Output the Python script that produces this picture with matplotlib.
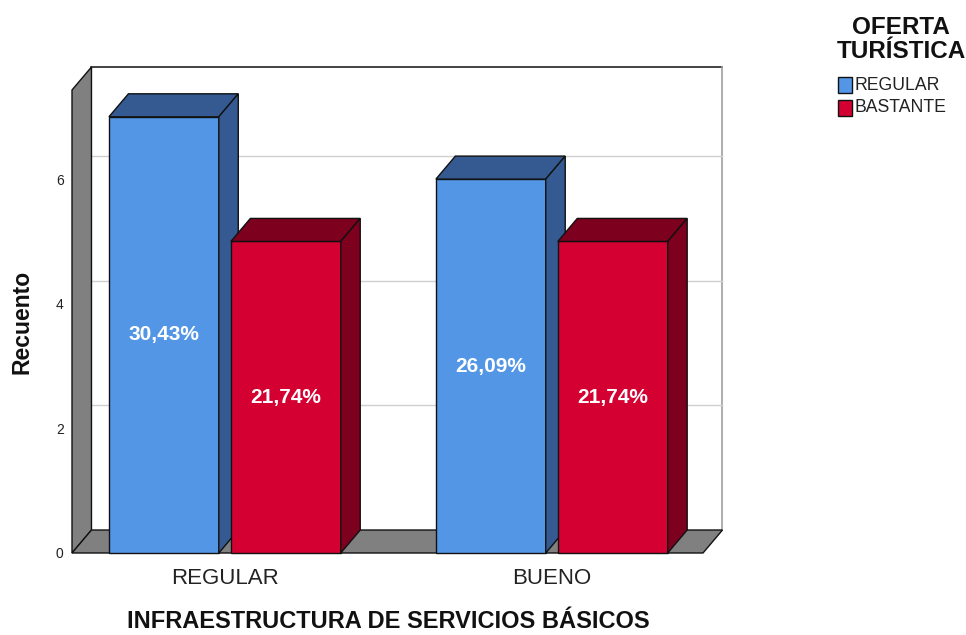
import matplotlib
matplotlib.use("Agg")
import matplotlib.pyplot as plt
from matplotlib.patches import Polygon, Rectangle

plt.rcParams['font.family'] = ['Liberation Sans', 'DejaVu Sans']

categories = ["REGULAR", "BUENO"]
series_names = ["REGULAR", "BASTANTE"]
values = {"REGULAR": [7, 6], "BASTANTE": [5, 5]}
pct_labels = {"REGULAR": ["30,43%", "26,09%"], "BASTANTE": ["21,74%", "21,74%"]}
yticks = [0, 2, 4, 6]

front_col = {"REGULAR": "#5496e6", "BASTANTE": "#d50032"}
dark_col = {"REGULAR": "#345a91", "BASTANTE": "#7d001e"}

W, H = 966, 635
fig = plt.figure(figsize=(W / 100, H / 100), dpi=100)
fig.patch.set_facecolor("white")

# front frame in pixels
L, R, B, T = 72, 703, 553, 90
ax = fig.add_axes([L / W, (H - B) / H, (R - L) / W, (B - T) / H])
ax.set_facecolor("none")
x0, x1 = -0.468, 1.462
y0, y1 = 0.0, 7.43
ax.set_xlim(x0, x1)
ax.set_ylim(y0, y1)
for s in ax.spines.values():
    s.set_visible(False)

DX, DY = 0.0596, 0.369

# back wall
ax.add_patch(Rectangle((x0 + DX, DY), x1 - x0, y1, facecolor="white",
                       edgecolor="none", zorder=0, clip_on=False))
ax.plot([x0 + DX, x1 + DX], [y1 + DY, y1 + DY], color="#222222", lw=1.2, zorder=1, clip_on=False)
ax.plot([x1 + DX, x1 + DX], [DY, y1 + DY], color="#a0a0a0", lw=1.2, zorder=1, clip_on=False)
for t in yticks[1:]:
    ax.plot([x0 + DX, x1 + DX], [t + DY, t + DY], color="#cfcfcf", lw=1.0, zorder=1, clip_on=False)
# left side wall
ax.add_patch(Polygon([(x0, 0), (x0 + DX, DY), (x0 + DX, y1 + DY), (x0, y1)],
                     closed=True, facecolor="#808080", edgecolor="#111111", lw=1.0,
                     zorder=2, clip_on=False))
# floor
ax.add_patch(Polygon([(x0, 0), (x1, 0), (x1 + DX, DY), (x0 + DX, DY)],
                     closed=True, facecolor="#808080", edgecolor="#111111", lw=1.0,
                     zorder=2, clip_on=False))

bw = 0.336
offsets = {"REGULAR": -0.355, "BASTANTE": 0.018}
z = 3
for ci, cat in enumerate(categories):
    for sname in series_names:
        v = values[sname][ci]
        xl = ci + offsets[sname]
        ax.bar([xl], [v], width=bw, align="edge", color=front_col[sname],
               edgecolor="#111111", linewidth=1.0, zorder=z, clip_on=False)
        ax.add_patch(Polygon([(xl, v), (xl + bw, v), (xl + bw + DX, v + DY), (xl + DX, v + DY)],
                             closed=True, facecolor=dark_col[sname], edgecolor="#111111",
                             lw=1.0, zorder=z, clip_on=False))
        ax.add_patch(Polygon([(xl + bw, 0), (xl + bw + DX, DY), (xl + bw + DX, v + DY), (xl + bw, v)],
                             closed=True, facecolor=dark_col[sname], edgecolor="#111111",
                             lw=1.0, zorder=z, clip_on=False))
        ax.text(xl + bw / 2, v / 2, pct_labels[sname][ci], color="white", fontsize=15,
                fontweight="bold", ha="center", va="center", zorder=z + 0.5)
        z += 1

ax.set_xticks(range(len(categories)))
ax.set_xticklabels(categories, fontsize=16, color="#222222")
ax.set_yticks(yticks)
ax.set_yticklabels([str(t) for t in yticks], fontsize=10, color="#222222")
ax.tick_params(axis="x", length=0, pad=11)
ax.tick_params(axis="y", length=0, pad=6)

ax.set_xlabel("INFRAESTRUCTURA DE SERVICIOS BÁSICOS", fontsize=17, fontweight="bold",
              color="#111111", va="center")
ax.xaxis.set_label_coords((388 - L) / (R - L), (B - 622) / (B - T))
ax.set_ylabel("Recuento", fontsize=16.5, fontweight="bold", color="#111111", va="center")
ax.yaxis.set_label_coords((22 - L) / (R - L), (B - 322) / (B - T))

# legend
fig.text(901 / W, 1 - 28 / H, "OFERTA", fontsize=17.5, fontweight="bold", ha="center", va="center",
         color="#111111")
fig.text(901 / W, 1 - 51 / H, "TURÍSTICA", fontsize=17.5, fontweight="bold", ha="center", va="center",
         color="#111111")
for i, sname in enumerate(series_names):
    yc = 85 + i * 23
    fig.patches.append(Rectangle((838 / W, 1 - (yc + 8) / H), 14 / W, 16 / H,
                                 transform=fig.transFigure, facecolor=front_col[sname],
                                 edgecolor="#111111", lw=1.0))
    fig.text(854 / W, 1 - yc / H, sname, fontsize=12.7, ha="left", va="center", color="#222222")

fig.savefig("out.png", dpi=100)
